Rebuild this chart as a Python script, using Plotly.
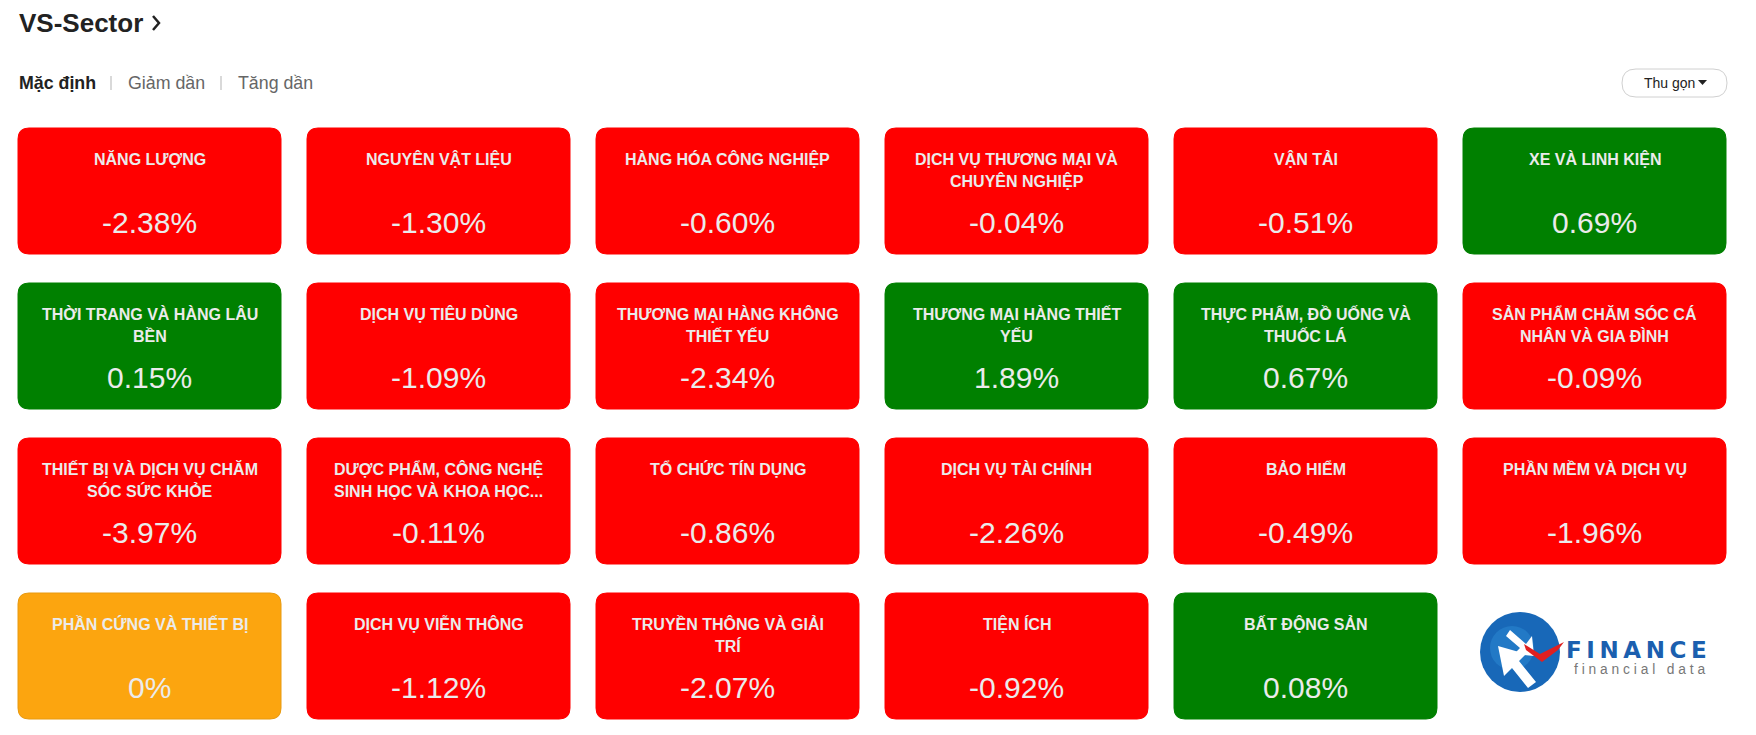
import plotly.graph_objects as go

# ---------------- data ----------------
sector_names = [
    "NĂNG LƯỢNG", "NGUYÊN VẬT LIỆU", "HÀNG HÓA CÔNG NGHIỆP",
    "DỊCH VỤ THƯƠNG MẠI VÀ<br>CHUYÊN NGHIỆP", "VẬN TẢI", "XE VÀ LINH KIỆN",
    "THỜI TRANG VÀ HÀNG LÂU<br>BỀN", "DỊCH VỤ TIÊU DÙNG", "THƯƠNG MẠI HÀNG KHÔNG<br>THIẾT YẾU",
    "THƯƠNG MẠI HÀNG THIẾT<br>YẾU", "THỰC PHẨM, ĐỒ UỐNG VÀ<br>THUỐC LÁ", "SẢN PHẨM CHĂM SÓC CÁ<br>NHÂN VÀ GIA ĐÌNH",
    "THIẾT BỊ VÀ DỊCH VỤ CHĂM<br>SÓC SỨC KHỎE", "DƯỢC PHẨM, CÔNG NGHỆ<br>SINH HỌC VÀ KHOA HỌC...", "TỔ CHỨC TÍN DỤNG",
    "DỊCH VỤ TÀI CHÍNH", "BẢO HIỂM", "PHẦN MỀM VÀ DỊCH VỤ",
    "PHẦN CỨNG VÀ THIẾT BỊ", "DỊCH VỤ VIỄN THÔNG", "TRUYỀN THÔNG VÀ GIẢI<br>TRÍ",
    "TIỆN ÍCH", "BẤT ĐỘNG SẢN",
]
sector_changes = [
    -2.38, -1.30, -0.60, -0.04, -0.51, 0.69,
    0.15, -1.09, -2.34, 1.89, 0.67, -0.09,
    -3.97, -0.11, -0.86, -2.26, -0.49, -1.96,
    0.00, -1.12, -2.07, -0.92, 0.08,
]
sort_tabs = ["Mặc định", "Giảm dần", "Tăng dần"]
chart_title = "VS-Sector"
button_label = "Thu gọn"

# ---------------- styling ----------------
W, H = 1756, 735
N_COLS = 6
TILE_X0, TILE_Y0 = 18, 128
PITCH_X, PITCH_Y = 289, 155
TILE_W, TILE_H = 263, 126
RADIUS = 11
COL_NEG, COL_POS, COL_ZERO = "#FF0000", "#008000", "#FCA50F"
TXT = "#EBEBEB"
FONT = "Liberation Sans, Arial, sans-serif"


def rounded_path(x0, y0, x1, y1, r):
    return (f"M{x0+r},{y0} L{x1-r},{y0} Q{x1},{y0} {x1},{y0+r} "
            f"L{x1},{y1-r} Q{x1},{y1} {x1-r},{y1} L{x0+r},{y1} "
            f"Q{x0},{y1} {x0},{y1-r} L{x0},{y0+r} Q{x0},{y0} {x0+r},{y0} Z")


def fmt(v):
    return "0%" if v == 0 else f"{v:.2f}%"


fig = go.Figure()
shapes, annotations = [], []

for i, (name, val) in enumerate(zip(sector_names, sector_changes)):
    r, c = divmod(i, N_COLS)
    x0 = TILE_X0 + c * PITCH_X
    y0 = TILE_Y0 + r * PITCH_Y
    x1, y1 = x0 + TILE_W, y0 + TILE_H
    col = COL_NEG if val < 0 else (COL_POS if val > 0 else COL_ZERO)
    line_col = "#E89A10" if val == 0 else col
    shapes.append(dict(type="path", path=rounded_path(x0, y0, x1, y1, RADIUS),
                       fillcolor=col, line=dict(color=line_col, width=1), layer="below"))
    cx = (x0 + x1) / 2
    for k, line in enumerate(name.split("<br>")):
        annotations.append(dict(x=cx, y=y0 + 30.5 + k * 22, text=line, showarrow=False,
                                xanchor="center", yanchor="middle",
                                font=dict(family=FONT, size=16, color=TXT, weight="bold")))
    annotations.append(dict(x=cx, y=y0 + 94, text=fmt(val), showarrow=False,
                            xanchor="center", yanchor="middle",
                            font=dict(family=FONT, size=30, color=TXT)))

# ---------------- header ----------------
annotations.append(dict(x=17, y=23, text=chart_title, showarrow=False, xanchor="left", yanchor="middle",
                        font=dict(family=FONT, size=26, color="#222222", weight="bold")))
shapes.append(dict(type="path", path="M153,16 L159,23 L153,30", line=dict(color="#222222", width=2.5)))

tab_x = [17, 126, 236]
for k, (t, tx) in enumerate(zip(sort_tabs, tab_x)):
    annotations.append(dict(x=tx, y=83, text=t, showarrow=False, xanchor="left", yanchor="middle",
                            font=dict(family=FONT, size=17.8, color="#222222" if k == 0 else "#666666",
                                      weight="bold" if k == 0 else "normal")))
for sx in [111, 221]:
    shapes.append(dict(type="line", x0=sx, x1=sx, y0=76, y1=90, line=dict(color="#CCCCCC", width=1.5)))

# button
shapes.append(dict(type="path", path=rounded_path(1622, 69, 1727, 97, 14),
                   fillcolor="white", line=dict(color="#D0D0D0", width=1)))
annotations.append(dict(x=1642, y=83, text=button_label, showarrow=False, xanchor="left", yanchor="middle",
                        font=dict(family=FONT, size=14, color="#222222")))
shapes.append(dict(type="path", path="M1698,80 L1707,80 L1702.5,85 Z", fillcolor="#222222",
                   line=dict(width=0)))

# ---------------- logo ----------------
LX, LY, LR = 1520, 652, 40
shapes.append(dict(type="circle", x0=LX - LR, x1=LX + LR, y0=LY - LR, y1=LY + LR,
                   fillcolor="#1868B8", line=dict(width=0)))
shapes.append(dict(type="circle", x0=LX - 30, x1=LX + 14, y0=LY - 26, y1=LY + 18,
                   fillcolor="#2A86CF", line=dict(width=0), opacity=0.6))
# white arrow pointing up-left
shapes.append(dict(type="path",
                   path=f"M{LX+8},{LY+36} L{LX-8},{LY+16} L{LX-16},{LY+24} L{LX-22},{LY-6} "
                        f"L{LX+6},{LY+2} L{LX-1},{LY+9} L{LX+16},{LY+30} Z",
                   fillcolor="white", line=dict(width=0)))
# white arrow from top pointing down-right
shapes.append(dict(type="path",
                   path=f"M{LX-10},{LY-22} L{LX+6},{LY-8} L{LX+12},{LY-16} L{LX+14},{LY+4} "
                        f"L{LX-6},{LY+2} L{LX+0},{LY-4} L{LX-14},{LY-16} Z",
                   fillcolor="white", line=dict(width=0)))
# red V
shapes.append(dict(type="path",
                   path=f"M{LX+4},{LY-8} L{LX+20},{LY+2} L{LX+44},{LY-10} L{LX+38},{LY-2} "
                        f"L{LX+22},{LY+10} L{LX+6},{LY-2} Z",
                   fillcolor="#E02020", line=dict(width=0)))
annotations.append(dict(x=1564, y=650, text="\u2009".join("FINANCE"), showarrow=False,
                        xanchor="left", yanchor="middle",
                        font=dict(family="DejaVu Sans, sans-serif", size=23, color="#1B5FAF", weight="bold")))
annotations.append(dict(x=1572, y=669, text="\u00a0".join("financial\u00a0data"), showarrow=False,
                        xanchor="left", yanchor="middle",
                        font=dict(family=FONT, size=13.8, color="#777777")))

fig.update_layout(
    width=W, height=H, margin=dict(l=0, r=0, t=0, b=0),
    paper_bgcolor="white", plot_bgcolor="white",
    xaxis=dict(range=[0, W], visible=False, fixedrange=True),
    yaxis=dict(range=[H, 0], visible=False, fixedrange=True),
    shapes=shapes, annotations=annotations, showlegend=False,
)
fig.write_html("out.html", config={"displayModeBar": False})
